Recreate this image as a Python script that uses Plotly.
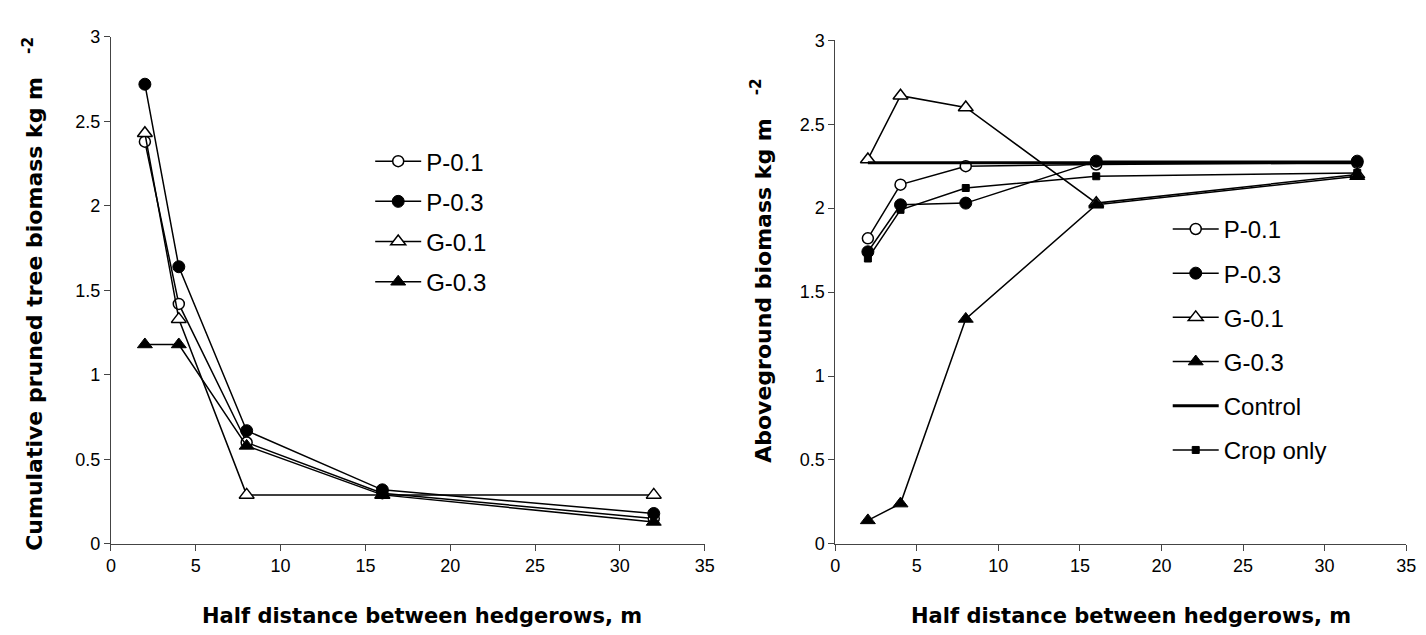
import plotly.graph_objects as go

# ---------------- data ----------------
x_dist = [2, 4, 8, 16, 32]

# Left panel: cumulative pruned tree biomass (kg m-2)
left_p01 = [2.38, 1.42, 0.60, 0.30, 0.15]
left_p03 = [2.72, 1.64, 0.67, 0.32, 0.18]
left_g01 = [2.43, 1.33, 0.29, 0.29, 0.29]
left_g03 = [1.18, 1.18, 0.58, 0.29, 0.13]

# Right panel: aboveground biomass (kg m-2)
right_p01 = [1.82, 2.14, 2.25, 2.26, 2.27]
right_p03 = [1.74, 2.02, 2.03, 2.28, 2.28]
right_g01 = [2.29, 2.67, 2.60, 2.03, 2.20]
right_g03 = [0.14, 0.24, 1.34, 2.02, 2.19]
right_control = [2.27, 2.27, 2.27, 2.27, 2.27]
right_crop = [1.70, 1.99, 2.12, 2.19, 2.21]

x_ticks = [0, 5, 10, 15, 20, 25, 30, 35]
y_ticks = [0, 0.5, 1, 1.5, 2, 2.5, 3]
y_tick_text = ["0", "0.5", "1", "1.5", "2", "2.5", "3"]

# ---------------- styles ----------------
W, H = 1426, 635
BLACK = "#000000"
FONT = "Liberation Sans, Arial, sans-serif"

styles = {
    "P-0.1": dict(symbol="circle", size=11, color="white", line=dict(color=BLACK, width=1.5)),
    "P-0.3": dict(symbol="circle", size=12, color=BLACK, line=dict(color=BLACK, width=1)),
    "G-0.1": dict(symbol="triangle-up", size=13, color="white", line=dict(color=BLACK, width=1.5)),
    "G-0.3": dict(symbol="triangle-up", size=13, color=BLACK, line=dict(color=BLACK, width=1)),
    "Crop only": dict(symbol="square", size=7, color=BLACK, line=dict(color=BLACK, width=1)),
}

fig = go.Figure()

left_series = [("P-0.1", left_p01), ("P-0.3", left_p03), ("G-0.1", left_g01), ("G-0.3", left_g03)]
for name, ys in left_series:
    fig.add_trace(go.Scatter(
        x=x_dist, y=ys, name=name, mode="lines+markers",
        line=dict(color=BLACK, width=1.5), marker=styles[name],
        xaxis="x", yaxis="y", legend="legend", legendgroup="L" + name,
        cliponaxis=False,
    ))

right_series = [("P-0.1", right_p01), ("P-0.3", right_p03), ("G-0.1", right_g01),
                ("G-0.3", right_g03)]
for name, ys in right_series:
    fig.add_trace(go.Scatter(
        x=x_dist, y=ys, name=name, mode="lines+markers",
        line=dict(color=BLACK, width=1.5), marker=styles[name],
        xaxis="x2", yaxis="y2", legend="legend2", legendgroup="R" + name,
        cliponaxis=False,
    ))
fig.add_trace(go.Scatter(
    x=x_dist, y=right_control, name="Control", mode="lines",
    line=dict(color=BLACK, width=3),
    xaxis="x2", yaxis="y2", legend="legend2", legendgroup="RControl",
))
fig.add_trace(go.Scatter(
    x=x_dist, y=right_crop, name="Crop only", mode="lines+markers",
    line=dict(color=BLACK, width=1.5), marker=styles["Crop only"],
    xaxis="x2", yaxis="y2", legend="legend2", legendgroup="RCrop",
    cliponaxis=False,
))

axis_common = dict(
    showgrid=False, zeroline=False, showline=True, linecolor="#444444", linewidth=1,
    ticks="outside", ticklen=6, tickcolor="#444444", tickwidth=1,
    tickfont=dict(family=FONT, size=18, color=BLACK),
)

fig.update_layout(
    width=W, height=H,
    margin=dict(l=0, r=0, t=0, b=0, pad=0),
    paper_bgcolor="white", plot_bgcolor="white",
    xaxis=dict(domain=[99 / W, 699 / W], range=[0, 35], tickvals=x_ticks,
               anchor="y", **axis_common),
    yaxis=dict(domain=[1 - 543 / H, 1 - 19.5 / H], range=[0, 3], tickvals=y_ticks,
               ticktext=y_tick_text, anchor="x", **axis_common),
    xaxis2=dict(domain=[831 / W, 1408 / W], range=[0, 35], tickvals=x_ticks,
                anchor="y2", **axis_common),
    yaxis2=dict(domain=[1 - 543 / H, 1 - 23 / H], range=[0, 3], tickvals=y_ticks,
                ticktext=y_tick_text, anchor="x2", **axis_common),
    legend=dict(x=361 / W, y=1 - 125 / H, xanchor="left", yanchor="top",
                font=dict(family=FONT, size=24, color=BLACK),
                itemwidth=46, traceorder="grouped", tracegroupgap=6,
                bgcolor="rgba(0,0,0,0)", borderwidth=0),
    legend2=dict(x=1167 / W, y=1 - 195 / H, xanchor="left", yanchor="top",
                 font=dict(family=FONT, size=24, color=BLACK),
                 itemwidth=46, traceorder="grouped", tracegroupgap=10,
                 bgcolor="rgba(0,0,0,0)", borderwidth=0),
    showlegend=True,
)

TITLE_FONT = dict(family="DejaVu Sans, sans-serif", size=21, color=BLACK, weight="bold")
YTITLE_FONT = dict(family="DejaVu Sans, sans-serif", size=22, color=BLACK, weight="bold")
annotations = [
    dict(text="Half distance between hedgerows, m", x=413 / W, y=1 - 617 / H,
         xref="paper", yref="paper", xanchor="center", yanchor="middle",
         showarrow=False, font=TITLE_FONT),
    dict(text="Half distance between hedgerows, m", x=1130 / W, y=1 - 617 / H,
         xref="paper", yref="paper", xanchor="center", yanchor="middle",
         showarrow=False, font=TITLE_FONT),
    dict(text="Cumulative pruned tree biomass kg m   <sup>-2</sup>", x=20 / W, y=1 - 285 / H,
         xref="paper", yref="paper", xanchor="center", yanchor="middle", textangle=-90,
         showarrow=False, font=YTITLE_FONT),
    dict(text="Aboveground biomass kg m   <sup>-2</sup>", x=756 / W, y=1 - 261 / H,
         xref="paper", yref="paper", xanchor="center", yanchor="middle", textangle=-90,
         showarrow=False, font=YTITLE_FONT),
]
fig.update_layout(annotations=annotations)

fig.write_html("out.html")
